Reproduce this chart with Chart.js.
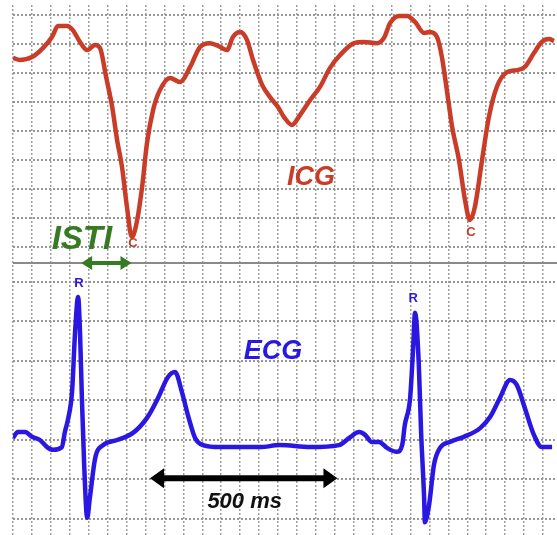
<!DOCTYPE html>
<html>
<head>
<meta charset="utf-8">
<script src="https://cdn.jsdelivr.net/npm/chart.js@4.4.0/dist/chart.umd.min.js"></script>
<style>
  html, body { margin: 0; padding: 0; background: #fff; }
  #wrap { position: relative; width: 557px; height: 535px; }
</style>
</head>
<body>
<div id="wrap"><canvas id="traces"></canvas></div>
<script>
// ICG trace (dZ/dt), time in ms, amplitude in grid divisions
const icgTime = [0, 18, 50, 79, 103, 119, 143, 158, 177, 196, 217, 230, 246, 262, 275, 288, 301, 314, 328, 341,
  354, 370, 388, 415, 441, 468, 494, 520, 547, 565, 581, 600, 618, 634, 658, 679, 700, 716, 737, 758,
  785, 811, 837, 864, 901, 927, 961, 980, 996, 1020, 1041, 1062, 1086, 1101, 1120, 1133, 1146, 1160, 1178, 1194,
  1207, 1220, 1239, 1257, 1278, 1305, 1331, 1352, 1376, 1397, 1416, 1429];
const icgValue = [6.52, 6.45, 6.55, 6.86, 7.24, 7.62, 7.62, 7.48, 7.07, 6.79, 6.97, 6.86, 5.86, 4.83, 3.69, 2.76, 1.38, 0.34, 0.93, 2.07,
  3.59, 4.72, 5.41, 5.83, 5.69, 6.21, 6.90, 7.03, 6.90, 6.79, 7.24, 7.41, 7.14, 6.45, 5.59, 5.17, 4.83, 4.48, 4.21, 4.55,
  5.07, 5.52, 6.17, 6.62, 7.03, 7.07, 7.03, 7.21, 7.72, 7.97, 7.97, 7.76, 7.38, 7.41, 7.24, 6.55, 5.41, 4.14, 3.00, 1.62,
  0.93, 1.38, 3.00, 4.48, 5.52, 6.03, 6.10, 6.21, 6.69, 7.07, 7.17, 7.10];

// ECG trace, time in ms, amplitude in grid divisions from baseline
const ecgTime = [0, 13, 32, 50, 71, 90, 106, 129, 137, 145, 156, 164, 172, 177, 182, 188, 196, 203, 217, 238,
  275, 317, 354, 383, 409, 428, 446, 462, 481, 502, 547, 600, 652, 705, 785, 861, 888, 914, 930, 948,
  967, 988, 1014, 1028, 1035, 1049, 1057, 1062, 1072, 1078, 1086, 1088, 1099, 1112, 1128, 1154, 1191, 1234, 1260, 1286,
  1313, 1331, 1352, 1376, 1397, 1424];
const ecgValue = [0.05, 0.20, 0.20, 0.08, 0.00, -0.18, -0.25, -0.18, 0.20, 0.51, 1.22, 2.73, 3.62, 2.73, 1.06, -0.63, -1.97, -1.47, -0.46, -0.13,
  0.00, 0.18, 0.56, 1.06, 1.59, 1.72, 1.22, 0.63, 0.05, -0.13, -0.18, -0.18, -0.18, -0.13, -0.18, -0.13, 0.05, 0.20, 0.13, -0.05,
  -0.05, -0.20, -0.30, -0.13, 0.38, 1.06, 2.33, 3.22, 1.90, 0.20, -1.47, -2.08, -1.65, -0.63, -0.20, -0.05, 0.08, 0.30, 0.58, 1.06,
  1.52, 1.39, 0.81, 0.13, -0.18, -0.18];

// fiducial point labels
const pointLabels = [
  { text: 'C', axis: 'icg', t: 317, v: 0.14 },
  { text: 'C', axis: 'icg', t: 1210, v: 0.52 },
  { text: 'R', axis: 'ecg', t: 174, v: 3.97 },
  { text: 'R', axis: 'ecg', t: 1057, v: 3.59 }
];
const traceTitles = [
  { text: 'ICG', axis: 'icg', t: 787, v: 2.38 },
  { text: 'ECG', axis: 'ecg', t: 687, v: 2.23 }
];
// interval markers: ISTI (R to C) and 500 ms scale bar
const intervals = [
  { text: 'ISTI', axis: 'icg', from: 180, to: 313, v: -0.55, textT: 182, textV: 0.24 },
  { text: '500 ms', axis: 'ecg', from: 362, to: 857, v: -0.97, textT: 612, textV: -1.58 }
];

const xMax = 1437;
const icgMin = -0.55, icgMax = 8.345;
const ecgMin = -2.405, ecgMax = 4.48;

const icgRed = '#c83c28';
const ecgBlue = '#2a17e2';
const istiGreen = '#367a22';

function range(a, b, step) {
  const out = [];
  for (let v = a; v <= b + 1e-9; v += step) out.push({ value: v });
  return out;
}

function drawArrow(ctx, x1, x2, y, color, shaft, headLen, headHalf) {
  ctx.save();
  ctx.strokeStyle = color;
  ctx.fillStyle = color;
  ctx.lineWidth = shaft;
  ctx.beginPath();
  ctx.moveTo(x1 + headLen * 0.8, y);
  ctx.lineTo(x2 - headLen * 0.8, y);
  ctx.stroke();
  ctx.beginPath();
  ctx.moveTo(x1, y);
  ctx.lineTo(x1 + headLen, y - headHalf);
  ctx.lineTo(x1 + headLen, y + headHalf);
  ctx.closePath();
  ctx.fill();
  ctx.beginPath();
  ctx.moveTo(x2, y);
  ctx.lineTo(x2 - headLen, y - headHalf);
  ctx.lineTo(x2 - headLen, y + headHalf);
  ctx.closePath();
  ctx.fill();
  ctx.restore();
}

// labels and arrows placed in data coordinates
const markup = {
  id: 'markup',
  afterDatasetsDraw(chart) {
    const { ctx, scales } = chart;
    const px = t => scales.x.getPixelForValue(t);
    const py = (axis, v) => scales[axis].getPixelForValue(v);
    const colorOf = axis => axis === 'icg' ? icgRed : ecgBlue;
    ctx.save();
    ctx.textAlign = 'center';
    ctx.textBaseline = 'middle';

    ctx.font = 'bold 13px "Liberation Sans", Arial, sans-serif';
    pointLabels.forEach(l => {
      ctx.fillStyle = colorOf(l.axis);
      ctx.fillText(l.text, px(l.t), py(l.axis, l.v));
    });

    ctx.font = 'italic bold 27px "Liberation Sans", Arial, sans-serif';
    traceTitles.forEach(l => {
      ctx.fillStyle = colorOf(l.axis);
      ctx.fillText(l.text, px(l.t), py(l.axis, l.v));
    });

    const isti = intervals[0];
    drawArrow(ctx, px(isti.from), px(isti.to), py(isti.axis, isti.v), istiGreen, 4, 11, 7);
    ctx.fillStyle = istiGreen;
    ctx.font = 'italic bold 33px "Liberation Sans", Arial, sans-serif';
    ctx.fillText(isti.text, px(isti.textT), py(isti.axis, isti.textV));

    const bar = intervals[1];
    drawArrow(ctx, px(bar.from), px(bar.to), py(bar.axis, bar.v), '#000', 6, 14, 10);
    ctx.fillStyle = '#111';
    ctx.font = 'italic bold 22px "Liberation Sans", Arial, sans-serif';
    ctx.fillText(bar.text, px(bar.textT), py(bar.axis, bar.textV));
    ctx.restore();
  }
};

new Chart(document.getElementById('traces'), {
  type: 'line',
  data: {
    datasets: [
      {
        label: 'ICG',
        data: icgTime.map((t, i) => ({ x: t, y: icgValue[i] })),
        yAxisID: 'icg',
        borderColor: icgRed,
        borderWidth: 4.5,
        pointRadius: 0,
        cubicInterpolationMode: 'monotone'
      },
      {
        label: 'ECG',
        data: ecgTime.map((t, i) => ({ x: t, y: ecgValue[i] })),
        yAxisID: 'ecg',
        borderColor: ecgBlue,
        borderWidth: 4.5,
        pointRadius: 0,
        cubicInterpolationMode: 'monotone'
      }
    ]
  },
  options: {
    responsive: true,
    maintainAspectRatio: false,
    animation: false,
    layout: { padding: { left: 13, top: 5, right: 0, bottom: 0 } },
    plugins: { legend: { display: false }, tooltip: { enabled: false } },
    scales: {
      x: {
        type: 'linear',
        min: 0,
        max: xMax,
        afterBuildTicks: s => { s.ticks = range(0, 1400, 50); },
        ticks: { display: false },
        grid: { color: '#9e9e9e', lineWidth: 1.5, drawTicks: false },
        border: { display: false, dash: [2, 2] }
      },
      ecg: {
        type: 'linear',
        position: 'left',
        stack: 'panels',
        stackWeight: 272,
        weight: 0,
        min: ecgMin,
        max: ecgMax,
        afterBuildTicks: s => { s.ticks = range(-2, 4, 1); },
        ticks: { display: false },
        grid: { color: '#969696', lineWidth: 2, drawTicks: false },
        border: { display: false, dash: [2, 2] }
      },
      icg: {
        type: 'linear',
        position: 'left',
        stack: 'panels',
        stackWeight: 258,
        weight: 1,
        min: icgMin,
        max: icgMax,
        afterBuildTicks: s => { s.ticks = [{ value: icgMin }].concat(range(0, 8, 1)); },
        ticks: { display: false },
        grid: {
          color: c => c.index === 0 ? '#8a8a8a' : '#969696',
          lineWidth: 2,
          drawTicks: false
        },
        border: { display: false, dash: c => c.index === 0 ? [] : [2, 2] }
      }
    }
  },
  plugins: [markup]
});
</script>
</body>
</html>
